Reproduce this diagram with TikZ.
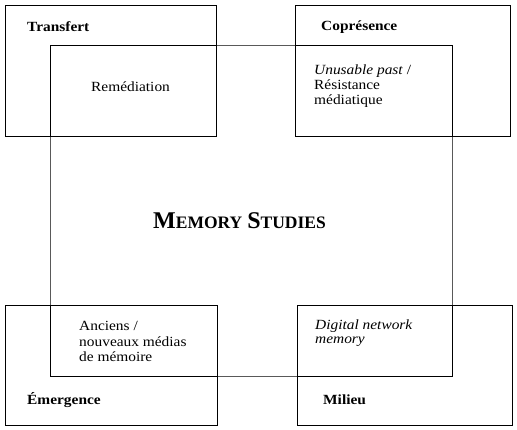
\documentclass[tikz,border=0pt]{standalone}
\usepackage{fontspec}
\setmainfont{Liberation Serif}[FakeStretch=1.1]
\newfontfamily\titlefont{Liberation Serif}
\begin{document}
\begin{tikzpicture}[x=1pt,y=-1pt,
  corner/.style={draw=black,line width=0.9pt},
  centre/.style={draw=black!65,line width=0.7pt},
  head/.style={anchor=base west,inner sep=0pt,font=\fontsize{14}{16}\selectfont\bfseries},
  txt/.style={anchor=base west,inner sep=0pt,font=\fontsize{14}{16}\selectfont},
  itxt/.style={anchor=base west,inner sep=0pt,font=\fontsize{14}{16}\selectfont\itshape}]
\useasboundingbox (0,0) rectangle (517,430);
% central box
\draw[centre] (50,45) rectangle (452,376);
% corner boxes
\draw[corner] (5,5) rectangle (216,136);
\draw[corner] (295,5) rectangle (510,136);
\draw[corner] (5,305) rectangle (217,425);
\draw[corner] (297,305) rectangle (512,425);
% overlaps
\draw[corner] (50,45) rectangle (216,136);
\draw[corner] (295,45) rectangle (452,136);
\draw[corner] (50,305) rectangle (217,376);
\draw[corner] (297,305) rectangle (452,376);
% texts
\node[head] (transfert) at (27,32) {Transfert};
\node[head] (copresence) at (321,31) {Coprésence};
\node[head] (emergence) at (27,405) {Émergence};
\node[head] (milieu) at (323,404) {Milieu};
\node[txt] (remed) at (91,92) {Remédiation};
\node[itxt] (unusable) at (314,75) {Unusable past\/ \upshape/};
\node[txt] (resist) at (314,90) {Résistance};
\node[txt] (mediat) at (314,105) {médiatique};
\node[txt] (anciens) at (79,331) {Anciens /};
\node[txt] (nouveaux) at (79,347) {nouveaux médias};
\node[txt] (dememoire) at (79,362) {de mémoire};
\node[itxt] (digital) at (315,330) {Digital network};
\node[itxt] (memory) at (315,344) {memory};
\node[anchor=base west,inner sep=0pt,font=\titlefont\bfseries] (title) at (153,229)
  {{\fontsize{24}{26}\selectfont M}{\fontsize{17.5}{20}\selectfont EMORY}\hspace{5pt}{\fontsize{24}{26}\selectfont S}{\fontsize{17.5}{20}\selectfont TUDIES}};
\end{tikzpicture}
\end{document}
